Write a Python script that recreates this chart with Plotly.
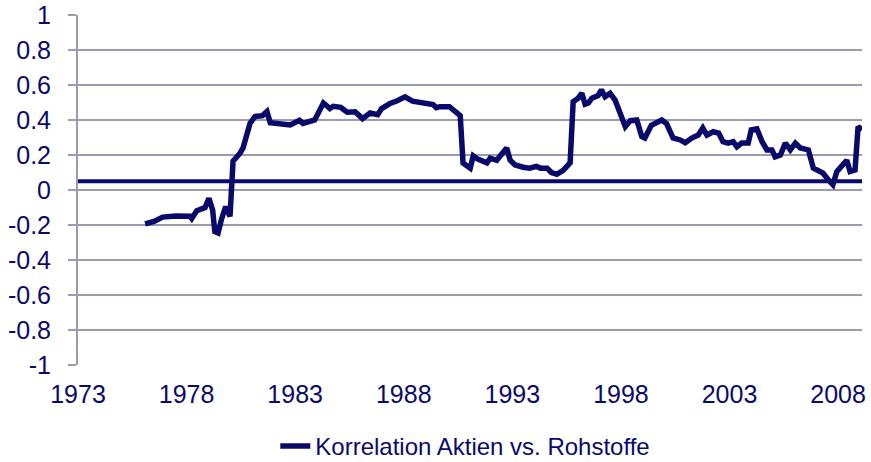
import plotly.graph_objects as go

years = [1976.09, 1976.5, 1976.9, 1977.5, 1978.16, 1978.24, 1978.47, 1978.85, 1979.03, 1979.2, 1979.3,
         1979.45, 1979.6, 1979.8, 1980.0, 1980.14, 1980.46, 1980.6, 1980.92, 1981.15, 1981.5, 1981.7,
         1981.85, 1982.3, 1982.77, 1983.2, 1983.36, 1983.9, 1984.3, 1984.6, 1984.75, 1985.1, 1985.4,
         1985.76, 1985.9, 1986.1, 1986.45, 1986.8, 1986.98, 1987.37, 1987.7, 1988.06, 1988.4, 1988.9,
         1989.35, 1989.5, 1989.67, 1990.1, 1990.37, 1990.6, 1990.73, 1991.06, 1991.2, 1991.43, 1991.83,
         1991.98, 1992.28, 1992.5, 1992.74, 1992.9, 1993.13, 1993.5, 1993.8, 1994.1, 1994.3, 1994.6,
         1994.8, 1995.05, 1995.34, 1995.66, 1995.8, 1996.03, 1996.2, 1996.35, 1996.5, 1996.66, 1996.95,
         1997.1, 1997.27, 1997.5, 1997.73, 1997.96, 1998.2, 1998.43, 1998.73, 1998.96, 1999.1, 1999.4,
         1999.65, 1999.88, 2000.1, 2000.4, 2000.73, 2000.96, 2001.26, 2001.56, 2001.77, 2001.96, 2002.25,
         2002.5, 2002.7, 2002.94, 2003.17, 2003.34, 2003.56, 2003.86, 2004.0, 2004.26, 2004.5, 2004.72,
         2004.95, 2005.1, 2005.34, 2005.57, 2005.8, 2006.03, 2006.26, 2006.63, 2006.86, 2007.09, 2007.3,
         2007.55, 2007.76, 2007.94, 2008.17, 2008.4, 2008.55, 2008.78, 2008.92, 2009.1]
correlation = [-0.194, -0.18, -0.155, -0.148, -0.15, -0.163, -0.118, -0.1, -0.048, -0.114, -0.238,
               -0.246, -0.17, -0.095, -0.15, 0.165, 0.21, 0.24, 0.38, 0.42, 0.425, 0.448,
               0.385, 0.38, 0.372, 0.398, 0.38, 0.40, 0.497, 0.465, 0.478, 0.472, 0.445,
               0.447, 0.43, 0.408, 0.44, 0.43, 0.465, 0.495, 0.51, 0.532, 0.508, 0.497,
               0.488, 0.47, 0.476, 0.476, 0.445, 0.425, 0.154, 0.125, 0.195, 0.175, 0.155,
               0.182, 0.17, 0.2, 0.24, 0.17, 0.143, 0.13, 0.125, 0.135, 0.125, 0.125,
               0.1, 0.09, 0.112, 0.155, 0.505, 0.525, 0.553, 0.49, 0.497, 0.525, 0.54,
               0.572, 0.533, 0.553, 0.514, 0.44, 0.362, 0.396, 0.40, 0.305, 0.297, 0.37,
               0.39, 0.40, 0.38, 0.297, 0.286, 0.27, 0.297, 0.314, 0.354, 0.314, 0.333,
               0.325, 0.276, 0.268, 0.276, 0.247, 0.268, 0.268, 0.343, 0.349, 0.276, 0.229,
               0.229, 0.19, 0.2, 0.268, 0.229, 0.268, 0.24, 0.229, 0.125, 0.114, 0.097,
               0.057, 0.03, 0.105, 0.133, 0.17, 0.105, 0.114, 0.362, 0.343]

ref_level = 0.05
x_range = [1973, 2009.1]
x_ticks = [1973, 1978, 1983, 1988, 1993, 1998, 2003, 2008]
y_ticks = [-1, -0.8, -0.6, -0.4, -0.2, 0, 0.2, 0.4, 0.6, 0.8, 1]

navy = "#0a0a6b"
grid = "#9c9cb0"

fig = go.Figure()
fig.add_trace(go.Scatter(x=[x_range[0], x_range[1] + 0.15], y=[ref_level, ref_level], mode="lines",
                         line=dict(color=navy, width=4), showlegend=False, hoverinfo="skip",
                         cliponaxis=False))
fig.add_trace(go.Scatter(x=years, y=correlation, mode="lines",
                         line=dict(color=navy, width=5.5),
                         name="Korrelation Aktien vs. Rohstoffe"))

fig.update_layout(
    width=871, height=462,
    margin=dict(l=78, r=9, t=15, b=97, autoexpand=False),
    paper_bgcolor="white", plot_bgcolor="white",
    font=dict(family="Liberation Sans, Arial, sans-serif", size=25, color=navy),
    legend=dict(orientation="h", x=0.494, xanchor="center", xref="paper",
                y=0.034, yanchor="middle", yref="container",
                font=dict(size=24, color=navy)),
    xaxis=dict(range=x_range, tickvals=x_ticks, ticktext=[str(t) for t in x_ticks],
               showgrid=False, zeroline=False, showline=False, ticks="", ticklen=0,
               ticklabelstandoff=12, automargin=False, tickfont=dict(size=25)),
    yaxis=dict(range=[-1, 1], tickvals=y_ticks, ticktext=[f"{t:g}" for t in y_ticks],
               showgrid=True, gridcolor=grid, gridwidth=2, zeroline=False,
               showline=True, linecolor=grid, linewidth=2, automargin=False,
               ticks="outside", ticklen=8, tickcolor=grid, tickwidth=2,
               ticklabelstandoff=12, tickfont=dict(size=25)),
)
fig.write_html("out.html", config={"displayModeBar": False},
               post_script="document.body.style.margin='0';")
